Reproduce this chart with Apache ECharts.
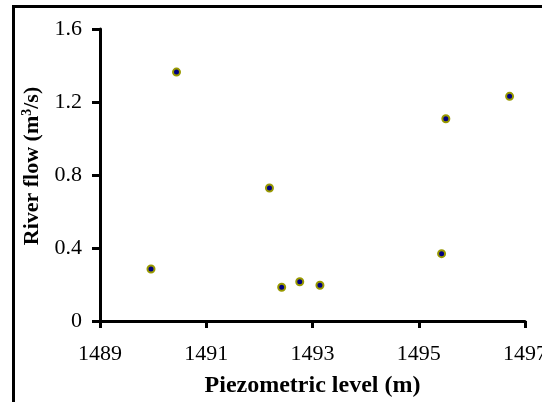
<!DOCTYPE html>
<html>
<head>
<meta charset="utf-8">
<script src="https://cdn.jsdelivr.net/npm/echarts@6/dist/echarts.min.js"></script>
<style>
html,body{margin:0;padding:0;background:#fff;}
#chart{width:542px;height:402px;}
</style>
</head>
<body>
<div id="chart"></div>
<script>
// Data
const piezometricLevel = [1489.96, 1490.44, 1492.19, 1492.42, 1492.76, 1493.14, 1495.43, 1495.51, 1496.71];
const riverFlow = [0.285, 1.364, 0.729, 0.185, 0.215, 0.196, 0.369, 1.108, 1.231];
const xTitle = 'Piezometric level (m)';
const yTitleParts = ['River flow (m', '3', '/s)'];

const FONT = "'Liberation Serif', 'Times New Roman', serif";
const points = piezometricLevel.map((x, i) => [x, riverFlow[i]]);

const chart = echarts.init(document.getElementById('chart'), null, {renderer: 'canvas'});
chart.setOption({
  animation: false,
  backgroundColor: '#ffffff',
  graphic: [{
    type: 'rect',
    shape: {x: 13.5, y: 6.5, width: 700, height: 600},
    style: {fill: 'none', stroke: '#000', lineWidth: 3},
    silent: true
  }],
  grid: {left: 100, right: 17, top: 29, bottom: 81, containLabel: false, outerBoundsMode: 'none'},
  xAxis: {
    type: 'value',
    min: 1489, max: 1497, interval: 2,
    name: xTitle,
    nameLocation: 'middle',
    nameGap: 53,
    nameTextStyle: {fontFamily: FONT, fontWeight: 'bold', fontSize: 24, color: '#000'},
    axisLine: {show: true, onZero: false, lineStyle: {color: '#000', width: 3}},
    axisTick: {show: true, inside: false, length: 7, lineStyle: {color: '#000', width: 3}},
    axisLabel: {fontFamily: FONT, fontSize: 22, color: '#000', margin: 22,
      formatter: v => String(v)},
    splitLine: {show: false}
  },
  yAxis: {
    type: 'value',
    min: 0, max: 1.6, interval: 0.4,
    name: '{n|' + yTitleParts[0] + '}{sup|' + yTitleParts[1] + '}{n|' + yTitleParts[2] + '}',
    nameLocation: 'middle',
    nameGap: 50,
    nameRotate: 90,
    nameTextStyle: {
      fontFamily: FONT, fontWeight: 'bold', fontSize: 22, color: '#000',
      padding: [0, 0, 0, 18],
      rich: {
        n: {fontFamily: FONT, fontWeight: 'bold', fontSize: 22, color: '#000'},
        sup: {fontFamily: FONT, fontWeight: 'bold', fontSize: 14, color: '#000', verticalAlign: 'top', padding: [0, 0, 10, 0]}
      }
    },
    axisLine: {show: true, onZero: false, lineStyle: {color: '#000', width: 3}},
    axisTick: {show: true, inside: false, length: 8, lineStyle: {color: '#000', width: 3}},
    axisLabel: {fontFamily: FONT, fontSize: 22, color: '#000', margin: 18,
      formatter: v => String(v)},
    splitLine: {show: false}
  },
  series: [{
    type: 'scatter',
    data: points,
    symbol: 'circle',
    symbolSize: 7,
    itemStyle: {color: '#000080', borderColor: '#999900', borderWidth: 2, opacity: 1},
    clip: false
  }]
});
</script>
</body>
</html>
